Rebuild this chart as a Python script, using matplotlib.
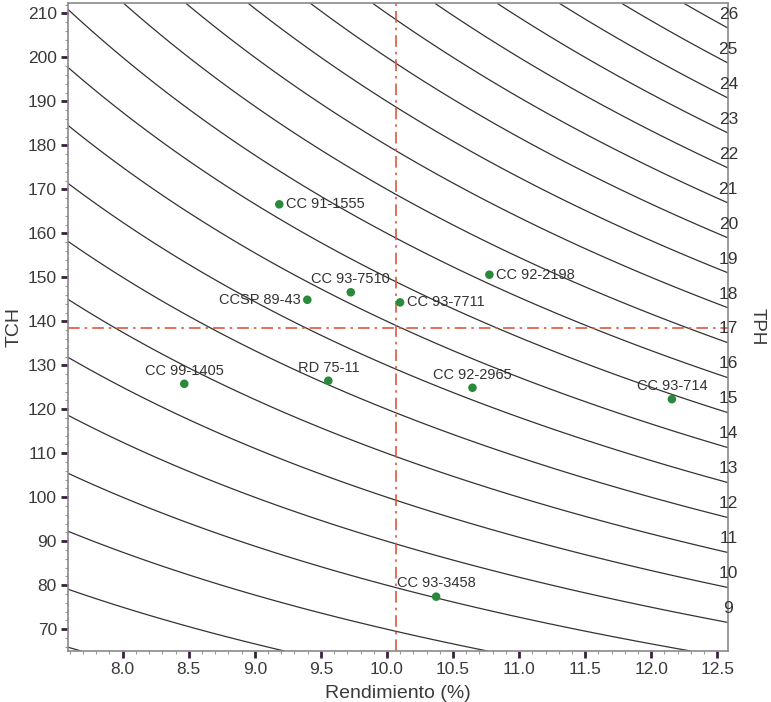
import numpy as np
import matplotlib
matplotlib.use("Agg")
import matplotlib.pyplot as plt
from matplotlib.ticker import MultipleLocator, FormatStrFormatter

# ---- data ----
varieties = ["CC 91-1555", "CC 92-2198", "CC 93-7510", "CCSP 89-43", "CC 93-7711",
             "CC 99-1405", "RD 75-11", "CC 92-2965", "CC 93-714", "CC 93-3458"]
rendimiento = [9.185, 10.775, 9.726, 9.397, 10.099, 8.466, 9.556, 10.647, 12.156, 10.372]
tch = [166.6, 150.6, 146.6, 144.9, 144.3, 125.8, 126.5, 124.9, 122.3, 77.4]
label_pos = ["right", "right", "above", "left", "right",
             "above", "above", "above", "above", "above"]

tph_levels = list(range(5, 27))
tph_right_labels = list(range(9, 27))
mean_rendimiento = 10.07
mean_tch = 138.5

x_ticks = [8.0, 8.5, 9.0, 9.5, 10.0, 10.5, 11.0, 11.5, 12.0, 12.5]
y_ticks = [70, 80, 90, 100, 110, 120, 130, 140, 150, 160, 170, 180, 190, 200, 210]
xlim = (7.586, 12.583)
ylim = (65.05, 212.3)

plt.rcParams['font.family'] = ['Liberation Sans', 'DejaVu Sans']

fig = plt.figure(figsize=(7.71, 7.02), dpi=100)
ax = fig.add_axes([68/771, 1 - 651/702, (728.3 - 68)/771, (651 - 3.3)/702])

# iso-TPH curves
gx = np.linspace(xlim[0], xlim[1], 400)
gy = np.linspace(ylim[0], ylim[1], 400)
X, Y = np.meshgrid(gx, gy)
Z = X * Y / 100.0
ax.contour(X, Y, Z, levels=tph_levels, colors='#333333', linewidths=0.9)

# mean lines
ax.axvline(mean_rendimiento, color='#e0553f', lw=1.2, ls=(0, (7, 3, 1.5, 3)))
ax.axhline(mean_tch, color='#e0553f', lw=1.2, ls=(0, (7, 3, 1.5, 3)))

# points
ax.scatter(rendimiento, tch, s=38, color='#2a8a3c', zorder=5, edgecolors='none')
for name, xv, yv, pos in zip(varieties, rendimiento, tch, label_pos):
    if pos == "right":
        ax.annotate(name, (xv, yv), xytext=(5, 0), textcoords='offset points',
                    ha='left', va='center', fontsize=10.5, color='#333333')
    elif pos == "left":
        ax.annotate(name, (xv, yv), xytext=(-5, 0), textcoords='offset points',
                    ha='right', va='center', fontsize=10.5, color='#333333')
    else:
        ax.annotate(name, (xv, yv), xytext=(0, 9.5), textcoords='offset points',
                    ha='center', va='center', fontsize=10.5, color='#333333')

# right-side TPH labels at curve ends
for t in tph_right_labels:
    yv = t * 100.0 / xlim[1]
    ax.annotate(str(t), (xlim[1], yv), xytext=(0, 10), textcoords='offset points',
                ha='center', va='center', fontsize=12.5, color='#333333',
                annotation_clip=False)

ax.set_xlim(*xlim)
ax.set_ylim(*ylim)
ax.set_xticks(x_ticks)
ax.set_yticks(y_ticks)
ax.xaxis.set_major_formatter(FormatStrFormatter('%.1f'))
ax.xaxis.set_minor_locator(MultipleLocator(0.1))
ax.yaxis.set_minor_locator(MultipleLocator(2))
ax.tick_params(axis='both', which='major', direction='out', length=5, width=2,
               color='#3a2040', labelsize=12.5, labelcolor='#3a3a3a', pad=3)
ax.tick_params(axis='both', which='minor', direction='out', length=2.5, width=0.8,
               color='#999999')
for sp in ax.spines.values():
    sp.set_color('#8a8a8a')
    sp.set_linewidth(1.2)

ax.set_xlabel('Rendimiento (%)', fontsize=14, color='#3a3a3a', labelpad=6)
ax.set_ylabel('TCH', fontsize=14, color='#3a3a3a', labelpad=4)
fig.text(757/771, 1 - 327/702, 'TPH', rotation=-90, ha='center', va='center',
         fontsize=13.5, color='#3a3a3a')

fig.savefig('out.png', dpi=100)
